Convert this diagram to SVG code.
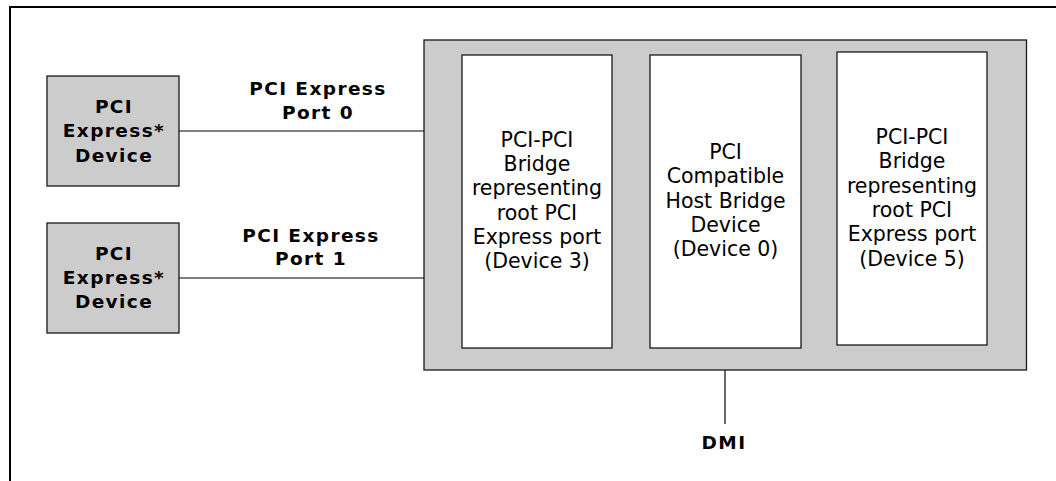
<svg xmlns="http://www.w3.org/2000/svg" width="1056" height="481" viewBox="0 0 1056 481">
<style>
.frame{fill:none;stroke:#000;stroke-width:2}
.gray{fill:#cccccc;stroke:#1a1a1a;stroke-width:1.3}
.white{fill:#ffffff;stroke:#1a1a1a;stroke-width:1.3}
.line{fill:none;stroke:#000;stroke-width:1.2}
.b{font-family:"DejaVu Sans",Verdana,sans-serif;font-weight:bold;font-size:18.5px;letter-spacing:1.4px;fill:#000;text-anchor:middle}
.r{font-family:"DejaVu Sans",Verdana,sans-serif;font-size:20.5px;fill:#000;text-anchor:middle}
</style>
<path class="frame" d="M10,481 V7 H1056"/>
<g id="connectors">
<line class="line" x1="179" y1="131" x2="424" y2="131"/>
<line class="line" x1="179" y1="278" x2="424" y2="278"/>
<line class="line" x1="725" y1="370" x2="725" y2="424"/>
<text class="b" x="318" y="95">PCI Express</text>
<text class="b" x="318" y="119">Port 0</text>
<text class="b" x="311" y="242">PCI Express</text>
<text class="b" x="311" y="265">Port 1</text>
<text class="b" x="724" y="449">DMI</text>
</g>
<g id="device0">
<rect class="gray" x="47" y="76" width="132" height="110"/>
<text class="b" x="114" y="113">PCI</text>
<text class="b" x="114" y="137">Express*</text>
<text class="b" x="114" y="161.5">Device</text>
</g>
<g id="device1">
<rect class="gray" x="47" y="223" width="132" height="110"/>
<text class="b" x="114" y="260">PCI</text>
<text class="b" x="114" y="284">Express*</text>
<text class="b" x="114" y="308">Device</text>
</g>
<g id="host">
<rect class="gray" x="424" y="40" width="602.5" height="330"/>
</g>
<g id="bridge3">
<rect class="white" x="462" y="55" width="150" height="293"/>
<text class="r" x="537" y="146.5">PCI-PCI</text>
<text class="r" x="537" y="171">Bridge</text>
<text class="r" x="537" y="195.3">representing</text>
<text class="r" x="537" y="219.6">root PCI</text>
<text class="r" x="537" y="244">Express port</text>
<text class="r" x="537" y="268.3">(Device 3)</text>
</g>
<g id="hostbridge0">
<rect class="white" x="650" y="55" width="151" height="293"/>
<text class="r" x="725.5" y="159">PCI</text>
<text class="r" x="725.5" y="183.3">Compatible</text>
<text class="r" x="725.5" y="207.6">Host Bridge</text>
<text class="r" x="725.5" y="231.9">Device</text>
<text class="r" x="725.5" y="256.2">(Device 0)</text>
</g>
<g id="bridge5">
<rect class="white" x="837" y="52" width="150" height="293"/>
<text class="r" x="912" y="144">PCI-PCI</text>
<text class="r" x="912" y="168.3">Bridge</text>
<text class="r" x="912" y="192.6">representing</text>
<text class="r" x="912" y="216.9">root PCI</text>
<text class="r" x="912" y="241.2">Express port</text>
<text class="r" x="912" y="265.5">(Device 5)</text>
</g>
</svg>
